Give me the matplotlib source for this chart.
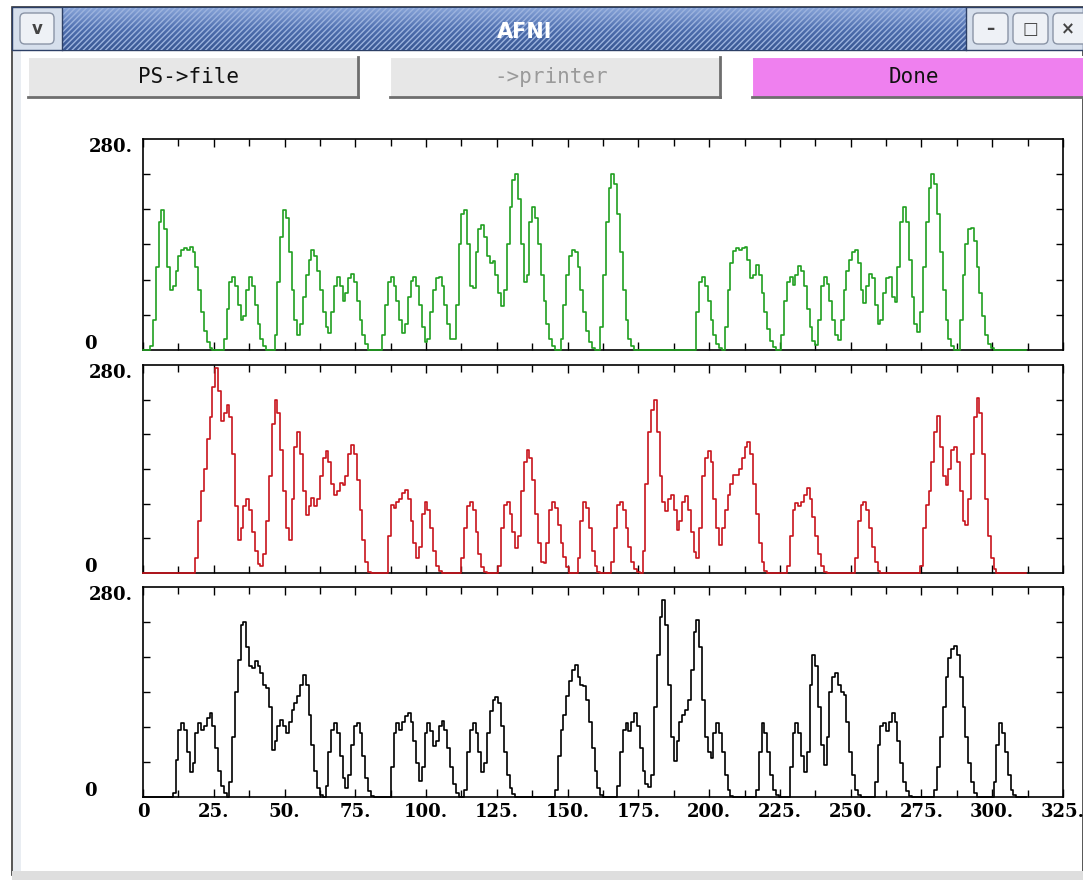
import numpy as np
import matplotlib
matplotlib.use("Agg")
import matplotlib.pyplot as plt
from matplotlib.patches import Rectangle, FancyBboxPatch
from matplotlib.colors import LinearSegmentedColormap

# values, one per time step (10 per row)
green_vals = [
    0, 0, 0, 5, 40, 110, 170, 186, 160, 110,
    80, 85, 105, 125, 133, 135, 133, 137, 130, 110,
    80, 50, 25, 10, 2, 0, 0, 0, 0, 15,
    55, 90, 97, 85, 60, 40, 45, 80, 97, 85,
    60, 35, 15, 5, 0, 0, 0, 20, 90, 150,
    186, 175, 130, 80, 40, 20, 35, 70, 100, 120,
    133, 125, 105, 80, 50, 30, 22, 50, 85, 97,
    85, 65, 75, 95, 101, 90, 65, 40, 20, 8,
    0, 0, 0, 0, 0, 20, 60, 90, 97, 85,
    65, 40, 22, 35, 70, 92, 97, 85, 60, 30,
    10, 15, 50, 80, 95, 97, 85, 60, 35, 15,
    15, 60, 140, 180, 186, 140, 85, 82, 130, 160,
    166, 150, 125, 115, 118, 100, 75, 58, 80, 140,
    190, 225, 233, 200, 140, 90, 100, 170, 190, 175,
    140, 100, 65, 35, 15, 5, 0, 0, 15, 60,
    100, 125, 133, 130, 110, 80, 50, 25, 10, 3,
    0, 0, 30, 100, 170, 215, 233, 220, 180, 130,
    80, 40, 15, 5, 0, 0, 0, 0, 0, 0,
    0, 0, 0, 0, 0, 0, 0, 0, 0, 0,
    0, 0, 0, 0, 0, 0, 50, 90, 97, 85,
    65, 40, 20, 8, 2, 0, 30, 80, 115, 132,
    135, 133, 135, 137, 120, 95, 100, 113, 100, 75,
    50, 28, 12, 4, 0, 0, 20, 65, 90, 97,
    86, 100, 111, 105, 85, 55, 30, 12, 7, 40,
    85, 97, 88, 65, 40, 20, 13, 40, 80, 105,
    120, 130, 133, 115, 80, 62, 85, 101, 95, 60,
    35, 40, 75, 95, 97, 70, 64, 110, 170, 190,
    170, 120, 70, 35, 24, 50, 110, 170, 215, 233,
    220, 180, 130, 80, 40, 15, 5, 0, 0, 40,
    100, 140, 160, 162, 145, 110, 75, 45, 20, 8,
    2, 0, 0, 0, 0, 0, 0, 0, 0, 0,
    0, 0, 0,
]

red_vals = [
    0, 0, 0, 0, 0, 0, 0, 0, 0, 0,
    0, 0, 0, 0, 0, 0, 0, 0, 0, 20,
    70, 110, 140, 180, 210, 250, 276, 245, 205, 215,
    226, 210, 160, 90, 45, 60, 90, 99, 85, 55,
    30, 12, 9, 25, 70, 130, 200, 233, 215, 165,
    110, 60, 45, 100, 170, 190, 160, 110, 78, 90,
    101, 90, 100, 130, 155, 164, 150, 120, 105, 110,
    121, 118, 130, 160, 172, 160, 125, 85, 45, 15,
    2, 0, 0, 0, 0, 0, 0, 50, 92, 88,
    95, 100, 108, 112, 100, 70, 40, 20, 35, 80,
    96, 85, 60, 30, 10, 3, 0, 0, 0, 0,
    0, 0, 0, 20, 60, 90, 96, 85, 55, 25,
    8, 2, 0, 0, 0, 0, 10, 60, 92, 96,
    80, 55, 34, 50, 110, 150, 166, 155, 125, 80,
    40, 15, 13, 40, 85, 96, 88, 65, 40, 22,
    8, 0, 0, 0, 20, 70, 96, 88, 60, 30,
    10, 2, 0, 0, 0, 0, 15, 60, 92, 96,
    85, 60, 35, 15, 5, 2, 0, 30, 120, 190,
    220, 233, 190, 130, 95, 83, 100, 105, 85, 58,
    70, 95, 103, 85, 55, 28, 20, 60, 130, 155,
    164, 150, 100, 60, 38, 60, 85, 105, 120, 132,
    132, 140, 155, 170, 177, 160, 120, 80, 40, 15,
    3, 0, 0, 0, 0, 0, 0, 0, 10, 50,
    85, 94, 90, 95, 105, 114, 100, 75, 50, 25,
    10, 2, 0, 0, 0, 0, 0, 0, 0, 0,
    0, 0, 20, 70, 92, 96, 85, 60, 35, 15,
    3, 0, 0, 0, 0, 0, 0, 0, 0, 0,
    0, 0, 0, 0, 0, 10, 60, 92, 110, 150,
    190, 211, 170, 130, 119, 140, 165, 170, 150, 110,
    70, 65, 100, 160, 210, 235, 215, 160, 100, 50,
    20, 5, 0, 0, 0, 0, 0, 0, 0, 0,
    0, 0, 0,
]

black_vals = [
    0, 0, 0, 0, 0, 0, 0, 0, 0, 0,
    0, 5, 50, 90, 99, 90, 60, 34, 45, 85,
    99, 90, 95, 105, 112, 95, 65, 35, 15, 5,
    0, 20, 80, 140, 183, 230, 234, 200, 175, 172,
    181, 175, 165, 150, 145, 120, 63, 75, 95, 103,
    95, 85, 100, 116, 125, 135, 150, 163, 150, 110,
    70, 35, 12, 3, 0, 15, 60, 90, 99, 85,
    55, 25, 12, 30, 70, 95, 99, 85, 55, 25,
    8, 2, 0, 0, 0, 0, 0, 0, 40, 85,
    99, 90, 100, 108, 112, 100, 75, 45, 21, 40,
    85, 99, 88, 68, 75, 95, 101, 90, 65, 40,
    18, 6, 0, 0, 10, 60, 90, 99, 85, 60,
    34, 45, 85, 115, 130, 134, 125, 95, 60, 30,
    12, 4, 0, 0, 0, 0, 0, 0, 0, 0,
    0, 0, 0, 0, 0, 0, 10, 55, 90, 110,
    135, 155, 170, 176, 160, 150, 148, 130, 100, 65,
    35, 12, 3, 0, 0, 0, 0, 0, 15, 60,
    90, 99, 88, 100, 112, 95, 65, 35, 18, 14,
    30, 120, 190, 240, 263, 230, 150, 80, 48, 75,
    100, 110, 116, 130, 170, 220, 236, 200, 130, 80,
    60, 52, 85, 99, 85, 60, 30, 10, 2, 0,
    0, 0, 0, 0, 0, 0, 0, 10, 60, 99,
    85, 60, 30, 10, 3, 0, 0, 0, 0, 40,
    85, 99, 85, 55, 34, 60, 150, 190, 175, 120,
    70, 43, 80, 140, 160, 165, 150, 140, 136, 100,
    60, 30, 10, 3, 0, 0, 0, 0, 0, 20,
    70, 95, 99, 88, 100, 112, 100, 75, 45, 20,
    8, 2, 0, 0, 0, 0, 0, 0, 0, 0,
    10, 40, 80, 120, 160, 185, 198, 201, 190, 160,
    120, 80, 45, 20, 5, 0, 0, 0, 0, 0,
    0, 20, 70, 99, 85, 60, 30, 10, 3, 0,
    0, 0, 0,
]

series_colors = ["#20a020", "#c8141c", "#000000"]
x_ticks = [0, 25, 50, 75, 100, 125, 150, 175, 200, 225, 250, 275, 300, 325]
x_tick_labels = ["0", "25.", "50.", "75.", "100.", "125.", "150.", "175.",
                 "200.", "225.", "250.", "275.", "300.", "325."]
y_top = 280
y_top_label = "280."
button_labels = ["PS->file", "->printer", "Done"]
window_title = "AFNI"

W, H = 1083, 880
fig = plt.figure(figsize=(W / 100, H / 100), dpi=100)
fig.patch.set_facecolor("white")

# background axes in pixel coordinates for the window chrome
bg = fig.add_axes([0, 0, 1, 1], zorder=0)
bg.set_axis_off()


def px_rect(x0, y0, x1, y1):
    return [x0 / W, 1 - y1 / H, (x1 - x0) / W, (y1 - y0) / H]


# window frame
bg.add_patch(Rectangle((12, 7), W - 12, 868, facecolor="white", edgecolor="#3a3a3a", lw=1.2))
bg.add_patch(Rectangle((13, 50), 8, 822, facecolor="#e9edf2", edgecolor="none"))
bg.add_patch(Rectangle((12, 871), W - 12, 9, facecolor="#dedede", edgecolor="none"))

# title bar
bg.add_patch(Rectangle((12, 7), W - 12, 43, facecolor="#d6dfec", edgecolor="#2c3f66", lw=1))
cmap = LinearSegmentedColormap.from_list("bar", ["#86a3d8", "#4e6eae", "#3a5894"])
bg.imshow(np.linspace(0, 1, 60)[:, None], extent=[62, 966, 50, 8], cmap=cmap,
          aspect="auto", zorder=1)
plt.rcParams["hatch.linewidth"] = 1.0
bg.add_patch(Rectangle((62, 8), 904, 42, facecolor="none", edgecolor="#9cb3de",
                       hatch="//////", lw=0, zorder=2))
bg.plot([62, 62], [8, 50], color="#2c3f66", lw=1, zorder=3)
bg.plot([966, 966], [8, 50], color="#2c3f66", lw=1, zorder=3)
bg.text(525, 32, window_title, color="white", fontsize=15, fontweight="bold",
        ha="center", va="center", family="DejaVu Sans", zorder=4)

# title bar small buttons
for bx0, bx1, sym in [(20, 54, "v"), (973, 1008, "–"), (1013, 1048, "□"), (1053, 1090, "×")]:
    bg.add_patch(FancyBboxPatch((bx0, 13), bx1 - bx0, 31, boxstyle="round,pad=0,rounding_size=5",
                                facecolor="#eef1f6", edgecolor="#8a94a6", lw=1, zorder=4))
    bg.text((bx0 + min(bx1, W)) / 2, 29, sym, color="#444444", fontsize=12, fontweight="bold",
            ha="center", va="center", zorder=5)

# buttons row
buttons = [(28, 358, "#e7e7e7", "#111111"), (390, 720, "#e7e7e7", "#9a9a9a"),
           (752, 1090, "#ef80ef", "#111111")]
for (x0, x1, face, tcol), label in zip(buttons, button_labels):
    bg.add_patch(Rectangle((x0, 57), x1 - x0, 40, facecolor=face, edgecolor="none", zorder=2))
    bg.plot([x0, x1], [57, 57], color="white", lw=1.5, zorder=3)
    bg.plot([x0, x0], [57, 97], color="white", lw=1.5, zorder=3)
    bg.plot([x0, x1], [97, 97], color="#6e6e6e", lw=2, zorder=3)
    bg.plot([x1, x1], [57, 97], color="#6e6e6e", lw=2, zorder=3)
    bg.text((x0 + min(x1, W)) / 2 - 4, 77, label, color=tcol, fontsize=15,
            family="DejaVu Sans Mono", ha="center", va="center", zorder=4)

bg.set_xlim(0, W)
bg.set_ylim(H, 0)

# the three time-series panels
panels = [(139, 350), (365, 573), (587, 797)]
tick_font = dict(family="DejaVu Serif", fontweight="bold", fontsize=13)

for (top, bottom), vals, col in zip(panels, [green_vals, red_vals, black_vals], series_colors):
    ax = fig.add_axes(px_rect(143, top, 1063, bottom), zorder=2)
    t = np.arange(len(vals))
    ax.step(t, vals, where="mid", color=col, lw=1.2, zorder=3, clip_on=False)
    ax.set_xlim(0, 325)
    ax.set_ylim(0, y_top)
    ax.set_xticks(x_ticks)
    ax.set_xticks(np.arange(12.5, 325, 25), minor=True)
    ax.set_yticks(np.linspace(0, y_top, 7)[1:-1])
    ax.tick_params(axis="both", which="both", direction="in", top=True, right=True,
                   labelbottom=False, labelleft=False, width=1.0, color="black")
    ax.tick_params(axis="x", which="major", length=6)
    ax.tick_params(axis="x", which="minor", length=5)
    ax.tick_params(axis="y", length=5)
    for sp in ax.spines.values():
        sp.set_linewidth(1.2)
    bg.text(133, top + 8, y_top_label, ha="right", va="center", **tick_font)
    bg.text(90, bottom - 6, "0", ha="center", va="center", **tick_font)

for xv, lab in zip(x_ticks, x_tick_labels):
    bg.text(143 + xv * 920 / 325, 812, lab, ha="center", va="center", **tick_font)

fig.savefig("out.png", dpi=100, facecolor="white")
